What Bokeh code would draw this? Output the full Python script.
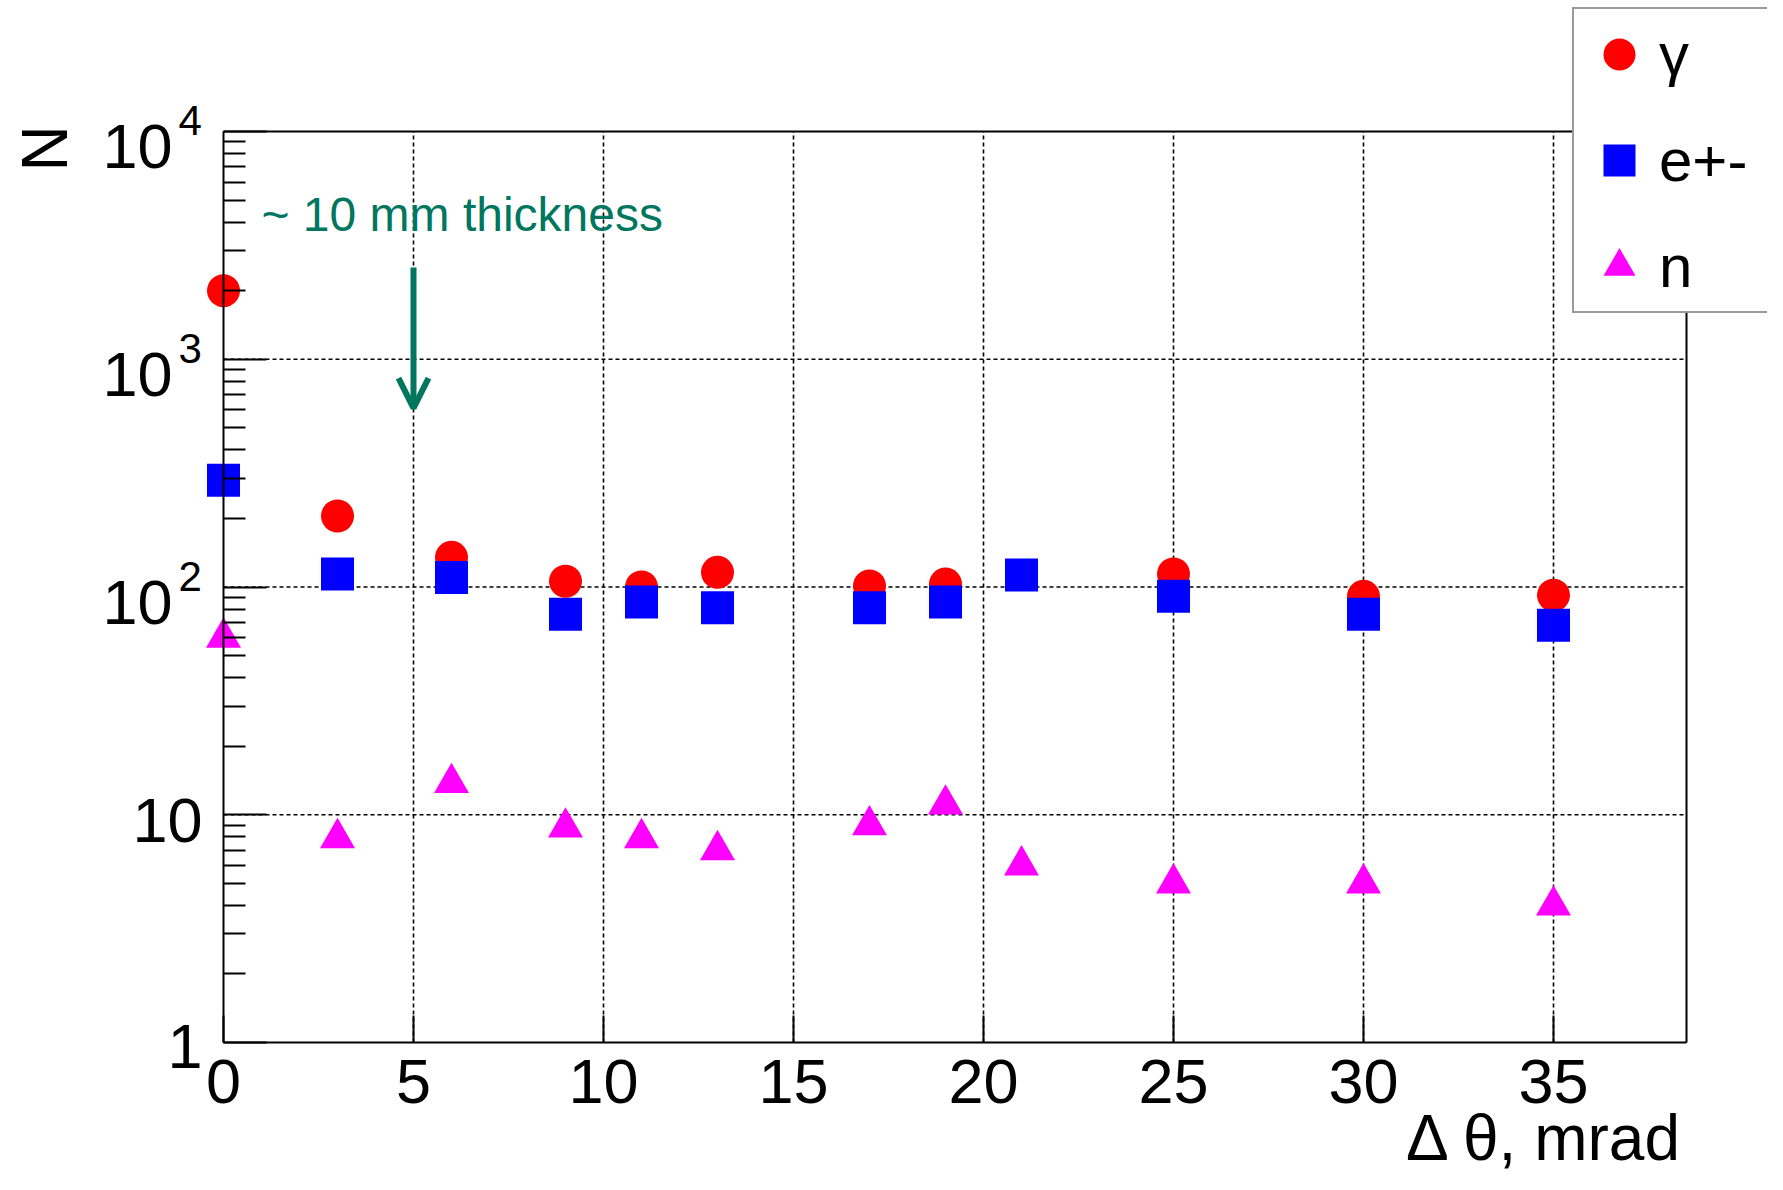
import math
from bokeh.plotting import figure
from bokeh.models import (FixedTicker, LinearAxis, LogAxis, Label, Arrow, OpenHead, Legend,
                          LegendItem, Range1d, ColumnDataSource, BasicTickFormatter)
from bokeh.embed import file_html
from bokeh.resources import INLINE

# ---------------- data ----------------
X_MRAD = [0, 3, 6, 9, 11, 13, 17, 19, 21, 25, 30, 35]
N_GAMMA = [2000, 205, 135, 106, 100, 116, 101, 103, float("nan"), 114, 91, 92]
N_EPM = [294, 114, 110, 76, 86, 81, 81, 86, 113, 91, 76, 68]
N_NEUTRON = [60, 7.9, 13.8, 8.8, 7.9, 7.0, 9.0, 11.1, 6.0, 5.0, 5.0, 4.0]

SERIES_LABELS = ["γ", "e+-", "n"]
X_TICKS = [0, 5, 10, 15, 20, 25, 30, 35]
Y_TICKS = [1, 10, 100, 1000, 10000]
Y_TICK_BASE = ["1", "10", "10", "10", "10"]
Y_TICK_EXP = ["", "", "2", "3", "4"]
Y_MINOR = [m * 10 ** k for k in range(4) for m in range(2, 10)]

X_TITLE = "Δ θ, mrad"
Y_TITLE = "N"
NOTE_TEXT = "~ 10 mm thickness"

X_MIN, X_MAX = 0, 38.5
Y_MIN, Y_MAX = 1, 10000
NOTE_X, NOTE_Y = 1.0, 4300
ARROW_X, ARROW_Y_START, ARROW_Y_END = 5, 2530, 610

# ---------------- layout (pixels) ----------------
W, H = 1767, 1174
BOX_L, BOX_R, BOX_T, BOX_B = 223, 1686, 131, 1042
px_per_x = (BOX_R - BOX_L) / (X_MAX - X_MIN)
px_per_dec = (BOX_B - BOX_T) / (math.log10(Y_MAX) - math.log10(Y_MIN))
xr0 = X_MIN - BOX_L / px_per_x
xr1 = X_MAX + (W - BOX_R) / px_per_x
yr1 = 10 ** (math.log10(Y_MAX) + BOX_T / px_per_dec)
yr0 = 10 ** (math.log10(Y_MIN) - (H - BOX_B) / px_per_dec)

FONT = "Liberation Sans"
RED, BLUE, MAGENTA = "#ff0000", "#0000ff", "#ff00ff"
GREEN = "#00765e"

p = figure(frame_width=W, frame_height=H,
           x_range=Range1d(xr0, xr1), y_range=Range1d(yr0, yr1),
           y_axis_type="log", x_axis_location=None, y_axis_location=None,
           output_backend="svg", toolbar_location=None, min_border=0,
           background_fill_color="white", border_fill_color="white")
p.outline_line_color = None
p.xgrid.visible = False
p.ygrid.visible = False

x_ticker = FixedTicker(ticks=X_TICKS, minor_ticks=[])
y_ticker = FixedTicker(ticks=Y_TICKS, minor_ticks=Y_MINOR)

# dotted grid lines inside the box, one per inner tick
gx = [t for t in X_TICKS if X_MIN < t < X_MAX]
gy = [t for t in Y_TICKS if Y_MIN < t < Y_MAX]
grid_style = dict(line_color="black", line_dash="4 3", line_width=1.6, level="underlay")
p.segment(x0=gx, x1=gx, y0=[Y_MIN] * len(gx), y1=[Y_MAX] * len(gx), **grid_style)
p.segment(x0=[X_MIN] * len(gy), x1=[X_MAX] * len(gy), y0=gy, y1=gy, **grid_style)

# axes placed at the box edges
xax = LinearAxis(ticker=x_ticker, fixed_location=Y_MIN, bounds=(X_MIN, X_MAX),
                 axis_line_width=2, axis_line_color="black",
                 major_tick_in=27, major_tick_out=0, major_tick_line_width=2,
                 minor_tick_line_color=None,
                 major_label_text_font=FONT, major_label_text_font_size="63px",
                 major_label_text_color="black", major_label_standoff=17)
p.add_layout(xax, "below")
yax = LogAxis(ticker=y_ticker, fixed_location=X_MIN, bounds=(Y_MIN, Y_MAX),
              formatter=BasicTickFormatter(),
              axis_line_width=2, axis_line_color="black",
              major_tick_in=43, major_tick_out=0, minor_tick_in=22, minor_tick_out=0,
              major_tick_line_width=2, minor_tick_line_width=2,
              major_label_text_color=None, major_label_text_font_size="0px")
p.add_layout(yax, "left")
top_axis = LinearAxis(ticker=FixedTicker(ticks=[]), fixed_location=Y_MAX,
                      bounds=(X_MIN, X_MAX), axis_line_width=2,
                      major_label_text_color=None, major_tick_line_color=None,
                      minor_tick_line_color=None)
p.add_layout(top_axis, "above")
right_axis = LinearAxis(ticker=FixedTicker(ticks=[]), fixed_location=X_MAX,
                        bounds=(Y_MIN, Y_MAX), axis_line_width=2,
                        major_label_text_color=None, major_tick_line_color=None,
                        minor_tick_line_color=None)
p.add_layout(right_axis, "right")

# data
src = ColumnDataSource(dict(x=X_MRAD, g=N_GAMMA, e=N_EPM, n=N_NEUTRON))
r_g = p.scatter("x", "g", source=src, marker="circle", size=33,
                fill_color=RED, line_color=None)
r_e = p.scatter("x", "e", source=src, marker="square", size=33,
                fill_color=BLUE, line_color=None)
r_n = p.scatter("x", "n", source=src, marker="triangle", size=35,
                fill_color=MAGENTA, line_color=None)

# y tick labels (10 with exponent)
for v, base, exp in zip(Y_TICKS, Y_TICK_BASE, Y_TICK_EXP):
    if exp:
        p.add_layout(Label(x=X_MIN, y=v, text=base, x_offset=-51, y_offset=-15,
                           text_align="right", text_baseline="middle",
                           text_font=FONT, text_font_size="63px", text_color="black"))
        p.add_layout(Label(x=X_MIN, y=v, text=exp, x_offset=-45, y_offset=11,
                           text_align="left", text_baseline="middle",
                           text_font=FONT, text_font_size="42px", text_color="black"))
    else:
        p.add_layout(Label(x=X_MIN, y=v, text=base, x_offset=-21,
                           y_offset=-6 if base == "10" else -4,
                           text_align="right", text_baseline="middle",
                           text_font=FONT, text_font_size="63px", text_color="black"))

# axis titles
p.add_layout(Label(x=X_MAX, y=Y_MIN, text=X_TITLE, x_offset=-3, y_offset=-95,
                   text_align="right", text_baseline="middle",
                   text_font=FONT, text_font_size="64px", text_color="black"))
p.add_layout(Label(x=X_MIN, y=Y_MAX, text=Y_TITLE, x_offset=-179, y_offset=-17,
                   angle=math.pi / 2, text_align="center", text_baseline="middle",
                   text_font=FONT, text_font_size="64px", text_color="black"))

# annotation
p.add_layout(Label(x=NOTE_X, y=NOTE_Y, text=NOTE_TEXT, text_align="left",
                   text_baseline="middle", text_font=FONT,
                   text_font_size="48px", text_color=GREEN))
p.add_layout(Arrow(end=OpenHead(size=30, line_color=GREEN, line_width=6),
                   x_start=ARROW_X, y_start=ARROW_Y_START,
                   x_end=ARROW_X, y_end=ARROW_Y_END,
                   line_color=GREEN, line_width=6))

# legend
legend = Legend(items=[LegendItem(label=SERIES_LABELS[0], renderers=[r_g]),
                       LegendItem(label=SERIES_LABELS[1], renderers=[r_e]),
                       LegendItem(label=SERIES_LABELS[2], renderers=[r_n])],
                location=(1572, 861), glyph_width=80, glyph_height=80,
                padding=5, spacing=26, label_standoff=0, label_width=220,
                margin=0, border_line_color="#333333", border_line_width=2,
                background_fill_color="white", background_fill_alpha=1,
                label_text_font=FONT, label_text_font_size="60px",
                label_text_color="black")
p.add_layout(legend)

open("out.html", "w").write(file_html(p, INLINE))
